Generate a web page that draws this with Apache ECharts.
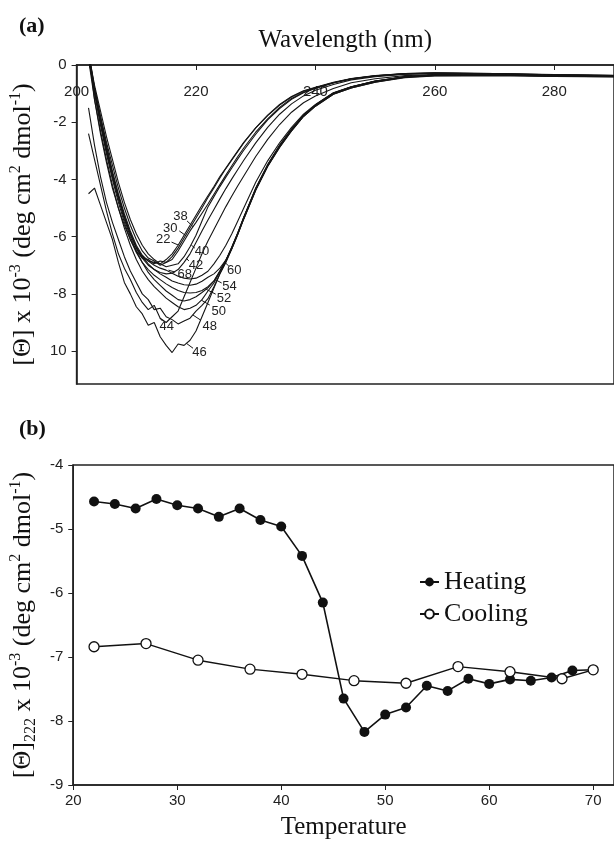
<!DOCTYPE html>
<html>
<head>
<meta charset="utf-8" />
<script src="https://cdn.jsdelivr.net/npm/echarts@6/dist/echarts.min.js"></script>
<style>
html, body { margin: 0; padding: 0; background: #fff; }
#chart { width: 614px; height: 845px; }
</style>
</head>
<body>
<div id="chart"></div>
<script>
// (a) CD spectra, one per temperature (x10^-3 deg cm2 dmol-1)
var wavelength = [202, 203, 204, 205, 206, 207, 208, 209, 210, 211, 212, 213, 214, 215, 216, 217, 218, 219, 220, 221,
	222, 223, 224, 225, 226, 227, 228, 230, 232, 234, 236, 238, 240, 243, 246, 250, 255, 260, 270, 280, 290];

var cd22 = [0.3, -0.9, -2.0, -3.0, -3.9, -4.6, -5.3, -5.9, -6.4, -6.7, -6.85, -6.9, -6.95, -6.8, -6.6, -6.3, -5.95, -5.6, -5.25, -4.9,
	-4.57, -4.25, -3.9, -3.6, -3.3, -3.0, -2.7, -2.2, -1.75, -1.38, -1.1, -0.9, -0.78, -0.6, -0.47, -0.37, -0.3, -0.27, -0.3, -0.33, -0.36];
var cd30 = [0.5, -1.2, -2.4, -3.4, -4.3, -5.0, -5.6, -6.1, -6.5, -6.75, -6.8, -6.95, -6.85, -6.9, -6.7, -6.4, -6.05, -5.7, -5.35, -5.0,
	-4.63, -4.3, -3.95, -3.62, -3.32, -3.02, -2.72, -2.2, -1.77, -1.4, -1.12, -0.92, -0.8, -0.62, -0.48, -0.38, -0.3, -0.28, -0.3, -0.34, -0.37];
var cd38 = [0.2, -0.8, -1.8, -2.7, -3.5, -4.3, -5.0, -5.6, -6.1, -6.5, -6.75, -6.85, -7.0, -6.9, -6.8, -6.5, -6.15, -5.8, -5.5, -5.18,
	-4.86, -4.52, -4.18, -3.85, -3.52, -3.2, -2.9, -2.35, -1.88, -1.48, -1.17, -0.95, -0.8, -0.62, -0.48, -0.38, -0.31, -0.28, -0.31, -0.34, -0.37];
var cd40 = [0.4, -0.7, -1.6, -2.5, -3.3, -4.1, -4.8, -5.4, -5.9, -6.3, -6.6, -6.8, -6.95, -7.05, -7.0, -6.95, -6.7, -6.35, -5.95, -5.45,
	-4.96, -4.6, -4.25, -3.92, -3.6, -3.28, -2.98, -2.42, -1.92, -1.52, -1.2, -0.97, -0.82, -0.63, -0.49, -0.39, -0.31, -0.29, -0.31, -0.35, -0.38];
var cd42 = [0.3, -0.9, -1.9, -2.9, -3.8, -4.6, -5.3, -5.9, -6.4, -6.75, -7.0, -7.15, -7.25, -7.3, -7.28, -7.15, -6.9, -6.6, -6.2, -5.8,
	-5.42, -5.05, -4.68, -4.32, -3.98, -3.65, -3.33, -2.72, -2.18, -1.72, -1.36, -1.08, -0.88, -0.68, -0.52, -0.41, -0.32, -0.3, -0.32, -0.35, -0.38];
var cd44 = [-2.4, -3.3, -4.2, -5.1, -5.9, -6.6, -7.1, -7.5, -7.95, -8.3, -8.55, -8.4, -8.85, -9.0, -8.8, -8.6, -8.1, -7.6, -7.1, -6.6,
	-6.15, -5.75, -5.35, -4.95, -4.58, -4.22, -3.88, -3.2, -2.6, -2.08, -1.65, -1.32, -1.08, -0.82, -0.62, -0.48, -0.37, -0.33, -0.33, -0.36, -0.39];
var cd46 = [-4.5, -4.3, -4.9, -5.5, -6.1, -6.9, -7.6, -8.0, -8.45, -8.7, -9.1, -9.0, -9.5, -9.8, -10.05, -9.75, -9.8, -9.62, -9.3, -8.8,
	-8.3, -7.8, -7.3, -6.88, -6.4, -5.9, -5.35, -4.35, -3.52, -2.85, -2.28, -1.78, -1.42, -1.0, -0.78, -0.58, -0.42, -0.36, -0.35, -0.38, -0.4];
var cd48 = [-1.5, -2.8, -3.9, -4.8, -5.5, -6.1, -6.7, -7.2, -7.6, -8.0, -8.2, -8.55, -8.5, -8.8, -8.9, -9.05, -8.95, -8.85, -8.6, -8.4,
	-8.17, -7.75, -7.3, -6.9, -6.42, -5.92, -5.38, -4.38, -3.55, -2.88, -2.3, -1.8, -1.44, -1.02, -0.8, -0.6, -0.43, -0.37, -0.36, -0.39, -0.41];
var cd50 = [0.2, -1.2, -2.3, -3.3, -4.2, -5.0, -5.7, -6.3, -6.8, -7.2, -7.5, -7.75, -7.95, -8.15, -8.3, -8.45, -8.55, -8.5, -8.4, -8.2,
	-7.9, -7.62, -7.22, -6.85, -6.38, -5.88, -5.33, -4.32, -3.5, -2.83, -2.26, -1.76, -1.4, -0.99, -0.77, -0.57, -0.41, -0.35, -0.34, -0.37, -0.39];
var cd52 = [0.4, -0.9, -2.0, -3.0, -3.9, -4.7, -5.4, -6.0, -6.5, -6.9, -7.25, -7.5, -7.7, -7.9, -8.05, -8.2, -8.25, -8.2, -8.1, -7.95,
	-7.79, -7.55, -7.2, -6.82, -6.36, -5.86, -5.32, -4.3, -3.48, -2.8, -2.24, -1.75, -1.4, -0.98, -0.76, -0.56, -0.41, -0.35, -0.34, -0.37, -0.4];
var cd54 = [0.3, -1.0, -2.1, -3.1, -4.0, -4.8, -5.5, -6.1, -6.55, -6.9, -7.15, -7.35, -7.5, -7.65, -7.78, -7.88, -7.95, -7.97, -7.95, -7.88,
	-7.75, -7.55, -7.2, -6.84, -6.37, -5.87, -5.33, -4.33, -3.5, -2.82, -2.25, -1.76, -1.41, -0.99, -0.77, -0.57, -0.41, -0.35, -0.35, -0.38, -0.4];
var cd60 = [0.5, -0.8, -1.9, -2.9, -3.8, -4.6, -5.3, -5.9, -6.35, -6.7, -6.95, -7.15, -7.3, -7.42, -7.55, -7.62, -7.68, -7.7, -7.66, -7.56,
	-7.42, -7.3, -7.1, -6.82, -6.42, -5.92, -5.38, -4.37, -3.54, -2.87, -2.3, -1.8, -1.44, -1.02, -0.8, -0.6, -0.44, -0.38, -0.37, -0.4, -0.42];
var cd68 = [0.4, -0.8, -1.8, -2.8, -3.7, -4.5, -5.2, -5.8, -6.3, -6.65, -6.85, -7.0, -7.1, -7.17, -7.28, -7.38, -7.45, -7.48, -7.45, -7.35,
	-7.21, -6.95, -6.65, -6.3, -5.9, -5.45, -5.0, -4.1, -3.35, -2.72, -2.18, -1.72, -1.38, -0.97, -0.76, -0.56, -0.41, -0.35, -0.34, -0.37, -0.39];

var spectra = [cd22, cd30, cd38, cd40, cd42, cd44, cd46, cd48, cd50, cd52, cd54, cd60, cd68];
var spectraTemp = ['22', '30', '38', '40', '42', '44', '46', '48', '50', '52', '54', '60', '68'];

// temperature tags with their leader lines (data units)
var leadStartX = [217.0, 218.4, 219.5, 219.2, 218.4, 214.0, 218.4, 219.5, 220.9, 221.7, 223.4, 225.0, 215.4];
var leadStartY = [-6.29, -5.98, -5.65, -6.29, -6.76, -8.86, -9.73, -8.74, -8.22, -7.84, -7.52, -6.93, -7.17];
var leadEndX = [215.9, 217.2, 218.5, 219.8, 218.8, 214.4, 219.5, 220.8, 222.3, 223.3, 224.3, 225.5, 216.5];
var leadEndY = [-6.19, -5.80, -5.45, -6.40, -6.85, -8.95, -9.90, -8.92, -8.39, -8.01, -7.62, -7.03, -7.24];
var tagX = [214.5, 215.7, 217.4, 221.0, 220.0, 215.1, 220.6, 222.3, 223.8, 224.7, 225.6, 226.4, 218.1];
var tagY = [-6.08, -5.70, -5.28, -6.53, -6.99, -9.15, -10.06, -9.13, -8.60, -8.16, -7.73, -7.19, -7.31];

var waveTicks = [200, 220, 240, 260, 280];
var thetaTicks = [0, -2, -4, -6, -8, -10];
var thetaTickLabels = ['0', '-2', '-4', '-6', '-8', '10'];

// (b) ellipticity at 222 nm vs temperature
var heatTemp = [22, 24, 26, 28, 30, 32, 34, 36, 38, 40, 42, 44, 46, 48, 50, 52, 54, 56, 58, 60, 62, 64, 66, 68, 70];
var heatVal = [-4.57, -4.61, -4.68, -4.53, -4.63, -4.68, -4.81, -4.68, -4.86, -4.96, -5.42, -6.15, -7.65, -8.17, -7.90, -7.79, -7.45,
	-7.53, -7.34, -7.42, -7.35, -7.37, -7.32, -7.21, -7.20];
var coolTemp = [22, 27, 32, 37, 42, 47, 52, 57, 62, 67, 70];
var coolVal = [-6.84, -6.79, -7.05, -7.19, -7.27, -7.37, -7.41, -7.15, -7.23, -7.34, -7.20];

var tempTicks = [20, 30, 40, 50, 60, 70];
var b_yTicks = [-9, -8, -7, -6, -5, -4];

var SERIF = '"Liberation Serif", "Times New Roman", serif';
var SANS = '"Liberation Sans", Arial, sans-serif';
var INK = '#151515';

var chart = echarts.init(document.getElementById('chart'));

function pairs(xs, ys) {
	var out = [];
	for(var i = 0; i < xs.length; i++) out.push([xs[i], ys[i]]);
	return out;
}

var nameRich = {
	sup: { fontFamily: SERIF, fontSize: 16, lineHeight: 31, verticalAlign: 'top', color: '#111' },
	sub: { fontFamily: SERIF, fontSize: 16, lineHeight: 31, verticalAlign: 'bottom', color: '#111' }
};

var series = [];
for(var i = 0; i < spectra.length; i++) {
	series.push({
		type: 'line',
		xAxisIndex: 0,
		yAxisIndex: 0,
		data: pairs(wavelength, spectra[i]),
		showSymbol: false,
		symbol: 'none',
		silent: true,
		lineStyle: { color: INK, width: 1.1 },
		markLine: {
			silent: true,
			symbol: ['none', 'none'],
			label: { show: false },
			lineStyle: { color: INK, width: 1, type: 'solid' },
			data: [[{ coord: [leadStartX[i], leadStartY[i]] }, { coord: [leadEndX[i], leadEndY[i]] }]]
		},
		markPoint: {
			silent: true,
			symbol: 'circle',
			symbolSize: 1,
			itemStyle: { color: 'rgba(0,0,0,0)' },
			label: { show: true, position: 'inside', formatter: spectraTemp[i], fontFamily: SANS, fontSize: 13, color: '#222' },
			data: [{ coord: [tagX[i], tagY[i]] }]
		}
	});
}

series.push({
	name: 'Heating',
	type: 'line',
	xAxisIndex: 1,
	yAxisIndex: 1,
	data: pairs(heatTemp, heatVal),
	symbol: 'circle',
	symbolSize: 10,
	itemStyle: { color: '#111' },
	lineStyle: { color: '#111', width: 1.6 }
});
series.push({
	name: 'Cooling',
	type: 'line',
	xAxisIndex: 1,
	yAxisIndex: 1,
	data: pairs(coolTemp, coolVal),
	symbol: 'circle',
	symbolSize: 10,
	itemStyle: { color: '#fff', borderColor: '#111', borderWidth: 1.3 },
	lineStyle: { color: '#111', width: 1.4 }
});

var axisLineStyle = { color: '#222', width: 1.5 };

var option = {
	animation: false,
	backgroundColor: '#fff',
	title: [
		{ text: '(a)', left: 14, top: 10, textStyle: { fontFamily: SERIF, fontWeight: 'bold', fontSize: 22, color: '#111' } },
		{ text: '(b)', left: 14, top: 413, textStyle: { fontFamily: SERIF, fontWeight: 'bold', fontSize: 22, color: '#111' } }
	],
	legend: {
		data: ['Heating', 'Cooling'],
		orient: 'vertical',
		left: 419,
		top: 569,
		padding: 0,
		itemGap: 6,
		itemWidth: 19,
		itemHeight: 11,
		textStyle: { fontFamily: SERIF, fontSize: 26, color: '#111' }
	},
	grid: [
		{ left: 72, top: 65, width: 545, height: 319, show: true, borderColor: '#222', borderWidth: 1.5 },
		{ left: 71, top: 465, width: 544, height: 320, show: true, borderColor: '#222', borderWidth: 1.5 }
	],
	xAxis: [
		{
			gridIndex: 0,
			type: 'value',
			position: 'top',
			min: 200,
			max: 290,
			name: 'Wavelength (nm)',
			nameLocation: 'middle',
			nameGap: 12,
			nameTextStyle: { fontFamily: SERIF, fontSize: 25, color: '#111' },
			axisLine: { show: true, lineStyle: axisLineStyle },
			axisTick: { show: true, inside: true, length: 5, customValues: waveTicks, lineStyle: { color: '#222' } },
			axisLabel: { inside: true, margin: 19, customValues: waveTicks, fontFamily: SANS, fontSize: 15, color: '#222' },
			splitLine: { show: false }
		},
		{
			gridIndex: 1,
			type: 'value',
			min: 20,
			max: 72,
			name: 'Temperature',
			nameLocation: 'middle',
			nameGap: 30,
			nameTextStyle: { fontFamily: SERIF, fontSize: 25, color: '#111' },
			axisLine: { show: true, lineStyle: axisLineStyle },
			axisTick: { show: true, length: 5, customValues: tempTicks, lineStyle: { color: '#222' } },
			axisLabel: { margin: 8, customValues: tempTicks, fontFamily: SANS, fontSize: 15, color: '#222' },
			splitLine: { show: false }
		}
	],
	yAxis: [
		{
			gridIndex: 0,
			type: 'value',
			min: -11.15,
			max: 0,
			name: '[Θ] x 10{sup|-3} (deg cm{sup|2} dmol{sup|-1})',
			nameLocation: 'middle',
			nameGap: 34,
			nameTextStyle: { fontFamily: SERIF, fontSize: 26, lineHeight: 31, color: '#111', rich: nameRich },
			axisLine: { show: true, lineStyle: axisLineStyle },
			axisTick: { show: true, length: 5, customValues: thetaTicks, lineStyle: { color: '#222' } },
			axisLabel: {
				margin: 10,
				customValues: thetaTicks,
				fontFamily: SANS,
				fontSize: 15,
				color: '#222',
				formatter: function(v) {
					var k = thetaTicks.indexOf(Math.round(v));
					return k >= 0 ? thetaTickLabels[k] : '';
				}
			},
			splitLine: { show: false }
		},
		{
			gridIndex: 1,
			type: 'value',
			min: -9,
			max: -4,
			name: '[Θ]{sub|222} x 10{sup|-3} (deg cm{sup|2} dmol{sup|-1})',
			nameLocation: 'middle',
			nameGap: 34,
			nameTextStyle: { fontFamily: SERIF, fontSize: 26, lineHeight: 31, color: '#111', rich: nameRich },
			axisLine: { show: true, lineStyle: axisLineStyle },
			axisTick: { show: true, length: 5, customValues: b_yTicks, lineStyle: { color: '#222' } },
			axisLabel: { margin: 10, customValues: b_yTicks, fontFamily: SANS, fontSize: 15, color: '#222' },
			splitLine: { show: false }
		}
	],
	series: series
};

chart.setOption(option);
</script>
</body>
</html>
